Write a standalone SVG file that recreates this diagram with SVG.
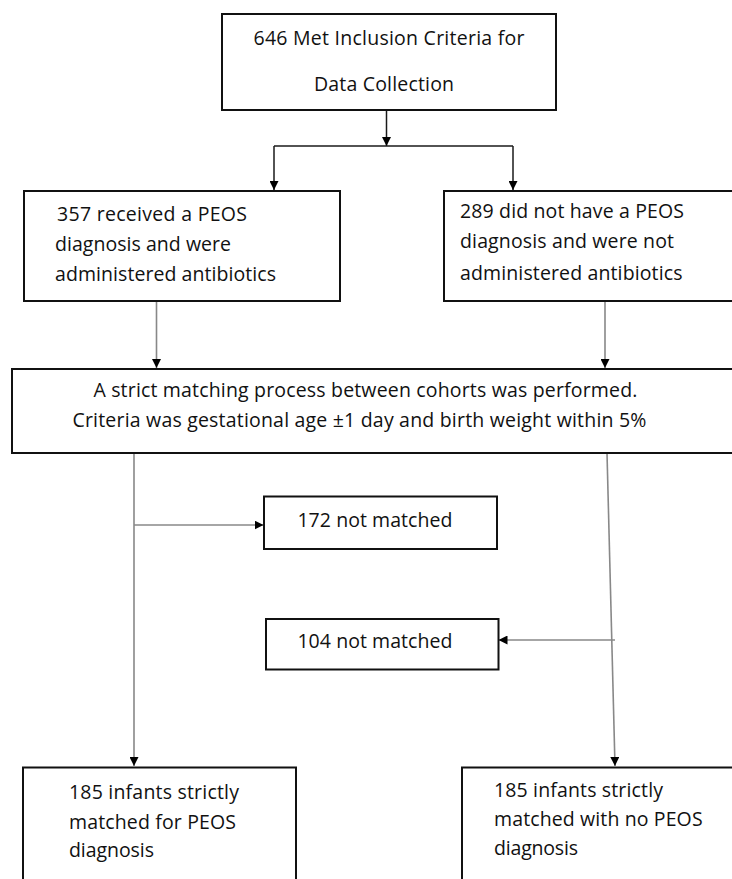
<svg xmlns="http://www.w3.org/2000/svg" width="732" height="879" viewBox="0 0 732 879">
<style>
.box{fill:#fff;stroke:#111;stroke-width:2}
.t{font-family:"Open Sans","Liberation Sans",Arial,sans-serif;font-size:19.5px;fill:#111;font-weight:500}
.c1{fill:none;stroke:#1a1a1a;stroke-width:1.5}
.c2{fill:none;stroke:#888;stroke-width:1.6}
</style>
<defs>
<marker id="ah" viewBox="0 0 9 9" refX="9" refY="4.5" markerWidth="9" markerHeight="9" markerUnits="userSpaceOnUse" orient="auto">
<path d="M0,0 L9,4.5 L0,9 z" fill="#000"/>
</marker>
</defs>
<rect width="732" height="879" fill="#fff"/>
<g id="connectors">
<path class="c1" d="M386.5,110 V146" marker-end="url(#ah)"/>
<path class="c1" d="M274,146 H513"/>
<path class="c1" d="M274,146 V190" marker-end="url(#ah)"/>
<path class="c1" d="M513,146 V190" marker-end="url(#ah)"/>
<path class="c2" d="M156.5,301 V368" marker-end="url(#ah)"/>
<path class="c2" d="M605,301 V368" marker-end="url(#ah)"/>
<path class="c2" d="M134,453 V766" marker-end="url(#ah)"/>
<path class="c2" d="M134,525 H263.5" marker-end="url(#ah)"/>
<path class="c2" d="M607,453 L615,766" marker-end="url(#ah)"/>
<path class="c2" d="M615,640 H498.5" marker-end="url(#ah)"/>
</g>
<g id="n_top">
<rect class="box" x="222" y="14" width="334" height="96"/>
<text class="t" x="253.5" y="45" textLength="271">646 Met Inclusion Criteria for</text>
<text class="t" x="314" y="91" textLength="140">Data Collection</text>
</g>
<g id="n_peos">
<rect class="box" x="24" y="191" width="316" height="110"/>
<text class="t" x="57" y="220.5" textLength="190">357 received a PEOS</text>
<text class="t" x="55" y="250.5" textLength="176">diagnosis and were</text>
<text class="t" x="55" y="280.5" textLength="221">administered antibiotics</text>
</g>
<g id="n_nopeos">
<rect class="box" x="444" y="191" width="300" height="110"/>
<text class="t" x="460" y="218" textLength="224">289 did not have a PEOS</text>
<text class="t" x="460" y="248" textLength="214">diagnosis and were not</text>
<text class="t" x="460" y="279.5" textLength="222.5">administered antibiotics</text>
</g>
<g id="n_match">
<rect class="box" x="12" y="369" width="730" height="84"/>
<text class="t" x="93.4" y="397" textLength="544">A strict matching process between cohorts was performed.</text>
<text class="t" x="72.4" y="427" textLength="574">Criteria was gestational age ±1 day and birth weight within 5%</text>
</g>
<g id="n_172">
<rect class="box" x="264" y="496.5" width="233" height="52.5"/>
<text class="t" x="297.4" y="526.5" textLength="155">172 not matched</text>
</g>
<g id="n_104">
<rect class="box" x="266" y="619" width="232.5" height="50.5"/>
<text class="t" x="297.4" y="648" textLength="155">104 not matched</text>
</g>
<g id="n_185a">
<rect class="box" x="23" y="767.5" width="273" height="130"/>
<text class="t" x="69" y="799" textLength="170">185 infants strictly</text>
<text class="t" x="69" y="828.5" textLength="167">matched for PEOS</text>
<text class="t" x="69" y="857" textLength="85">diagnosis</text>
</g>
<g id="n_185b">
<rect class="box" x="462" y="767.5" width="290" height="130"/>
<text class="t" x="494" y="797" textLength="169">185 infants strictly</text>
<text class="t" x="494" y="826" textLength="208.6">matched with no PEOS</text>
<text class="t" x="494" y="855" textLength="84">diagnosis</text>
</g>
</svg>
